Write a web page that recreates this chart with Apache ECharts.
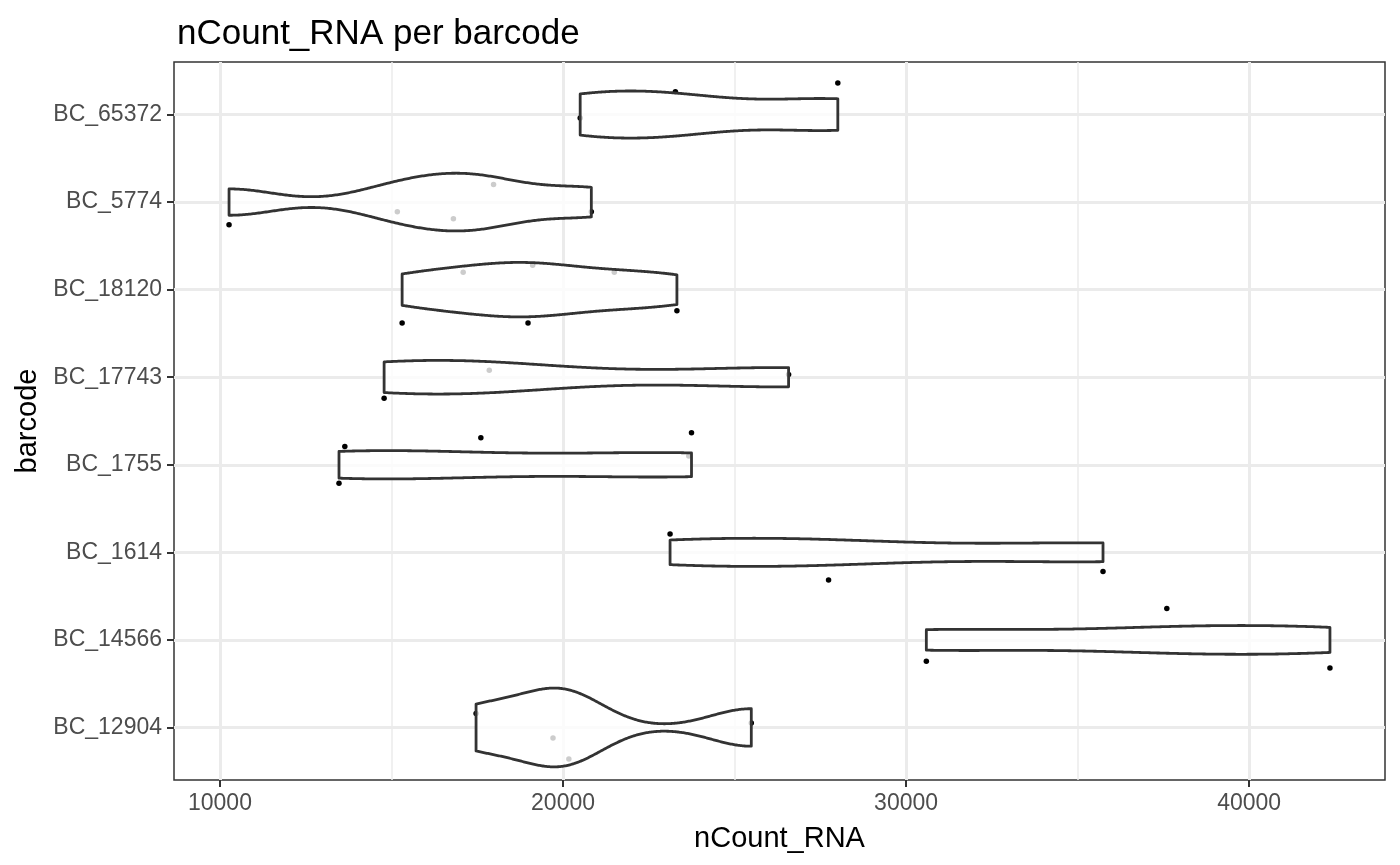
<!DOCTYPE html>
<html>
<head>
<meta charset="utf-8">
<title>nCount_RNA per barcode</title>
<script src="https://cdn.jsdelivr.net/npm/echarts@6/dist/echarts.min.js"></script>
<style>
  html, body { margin: 0; padding: 0; background: #fff; }
  #chart { width: 1400px; height: 865px; }
</style>
</head>
<body>
<div id="chart"></div>
<script>
// categories, bottom to top
const barcodes = ['BC_12904', 'BC_14566', 'BC_1614', 'BC_1755', 'BC_17743', 'BC_18120', 'BC_5774', 'BC_65372'];

// nCount_RNA per cell, one list per barcode
const nCount = [
    [17465, 19708, 20170, 25488],
    [30590, 37600, 42355],
    [23120, 27740, 35740],
    [13470, 13640, 17605, 23665, 23745],
    [14785, 17850, 26575],
    [15310, 17090, 18980, 19115, 21495, 23320],
    [10265, 15170, 16805, 17975, 20825],
    [20500, 23275, 28010]
];

// vertical jitter of each point (category units)
const jitter = [
    [0.16, -0.12, -0.36, 0.05],
    [-0.245, 0.36, -0.32],
    [0.21, -0.315, -0.22],
    [-0.21, 0.21, 0.31, 0.10, 0.365],
    [-0.24, 0.08, 0.03],
    [-0.38, 0.20, -0.38, 0.28, 0.20, -0.24],
    [-0.26, -0.11, -0.19, 0.20, -0.11],
    [-0.04, 0.26, 0.36]
];

const xTicks = [10000, 20000, 30000, 40000];

const FONT = '"Liberation Sans", Arial, Helvetica, sans-serif';

// --- kernel density like R's density(bw = "nrd0"), trimmed to the data range ---
function quantile7(sorted, p) {
    const h = (sorted.length - 1) * p;
    const lo = Math.floor(h);
    const hi = Math.min(lo + 1, sorted.length - 1);
    return sorted[lo] + (h - lo) * (sorted[hi] - sorted[lo]);
}

function bwNrd0(x) {
    const n = x.length;
    const mean = x.reduce((a, b) => a + b, 0) / n;
    const sd = Math.sqrt(x.reduce((a, b) => a + (b - mean) * (b - mean), 0) / (n - 1));
    const s = x.slice().sort((a, b) => a - b);
    const iqr = quantile7(s, 0.75) - quantile7(s, 0.25);
    let lo = Math.min(sd, iqr / 1.34);
    if (!lo) lo = sd || Math.abs(s[0]) || 1;
    return 0.9 * lo * Math.pow(n, -0.2);
}

function densityCurve(x, steps) {
    const bw = bwNrd0(x);
    const lo = Math.min(...x), hi = Math.max(...x);
    const k = 1 / (x.length * bw * Math.sqrt(2 * Math.PI));
    const out = [];
    for (let i = 0; i < steps; i++) {
        const t = lo + (hi - lo) * i / (steps - 1);
        let d = 0;
        x.forEach(v => { const z = (t - v) / bw; d += Math.exp(-0.5 * z * z); });
        out.push([t, d * k]);
    }
    return out;
}

const curves = nCount.map(vals => densityCurve(vals, 256));
const maxDens = Math.max(...curves.map(c => Math.max(...c.map(p => p[1]))));

// x range with 5% padding on each side
const allVals = nCount.flat();
const dataMin = Math.min(...allVals), dataMax = Math.max(...allVals);
const pad = (dataMax - dataMin) * 0.05;

const points = [];
nCount.forEach((vals, i) => vals.forEach((v, j) => points.push([v, i + jitter[i][j]])));

const chart = echarts.init(document.getElementById('chart'), null, { renderer: 'canvas' });

chart.setOption({
    animation: false,
    backgroundColor: '#ffffff',
    title: {
        text: 'nCount_RNA per barcode',
        left: 172,
        top: 12,
        textStyle: { fontFamily: FONT, fontSize: 35, fontWeight: 'normal', color: '#000000' }
    },
    grid: {
        left: 174, right: 15, top: 62, bottom: 85,
        show: true, borderColor: '#333333', borderWidth: 1.5, backgroundColor: 'transparent'
    },
    xAxis: {
        type: 'value',
        min: dataMin - pad,
        max: dataMax + pad,
        splitNumber: 4,
        name: 'nCount_RNA',
        nameLocation: 'middle',
        nameGap: 44,
        nameTextStyle: { fontFamily: FONT, fontSize: 29, color: '#000000' },
        axisLine: { show: false, onZero: false },
        axisTick: { show: true, length: 7, customValues: xTicks, lineStyle: { color: '#333333', width: 2 } },
        axisLabel: {
            customValues: xTicks, margin: 12,
            fontFamily: FONT, fontSize: 23, color: '#4D4D4D',
            formatter: v => String(v)
        },
        splitLine: { show: true, lineStyle: { color: '#EBEBEB', width: 3 } },
        minorTick: { show: false, splitNumber: 2 },
        minorSplitLine: { show: true, lineStyle: { color: '#EBEBEB', width: 1.5 } }
    },
    yAxis: {
        type: 'value',
        min: -0.6,
        max: barcodes.length - 1 + 0.6,
        splitNumber: 8,
        name: 'barcode',
        nameLocation: 'middle',
        nameRotate: 90,
        nameGap: 128,
        nameTextStyle: { fontFamily: FONT, fontSize: 29, color: '#000000' },
        axisLine: { show: false, onZero: false },
        axisTick: { show: true, length: 7, customValues: barcodes.map((_, i) => i), lineStyle: { color: '#333333', width: 2 } },
        axisLabel: {
            customValues: barcodes.map((_, i) => i),
            margin: 12,
            fontFamily: FONT, fontSize: 23, color: '#4D4D4D',
            formatter: v => barcodes[Math.round(v)] || ''
        },
        splitLine: { show: true, lineStyle: { color: '#EBEBEB', width: 3 } }
    },
    series: [
        {
            type: 'scatter',
            z: 2,
            data: points,
            symbol: 'circle',
            symbolSize: 5.5,
            itemStyle: { color: '#000000', opacity: 1 }
        },
        {
            type: 'custom',
            z: 3,
            data: nCount.map((vals, i) => [Math.min(...vals), Math.max(...vals), i]),
            encode: { x: [0, 1], y: 2 },
            renderItem: (params, api) => {
                const curve = curves[params.dataIndex];
                const idx = api.value(2);
                const upper = curve.map(p => api.coord([p[0], idx + p[1] / maxDens * 0.45]));
                const lower = curve.slice().reverse().map(p => api.coord([p[0], idx - p[1] / maxDens * 0.45]));
                return {
                    type: 'polygon',
                    shape: { points: upper.concat(lower) },
                    style: { fill: 'rgba(255,255,255,0.8)', stroke: '#333333', lineWidth: 2.8, lineJoin: 'round' }
                };
            }
        }
    ]
});

window.addEventListener('resize', () => chart.resize());
</script>
</body>
</html>
